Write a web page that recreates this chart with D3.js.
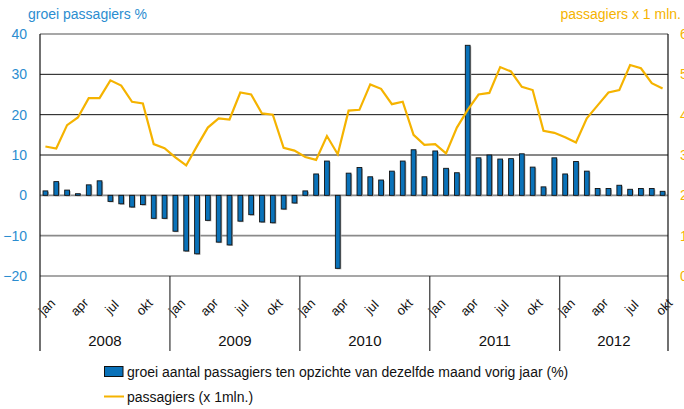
<!DOCTYPE html>
<html><head><meta charset="utf-8">
<script src="https://cdn.jsdelivr.net/npm/d3@7"></script>
<style>
html,body{margin:0;padding:0;background:#fff;}
svg{display:block;font-family:"Liberation Sans",Arial,sans-serif;}
</style></head>
<body>
<svg id="chart" width="684" height="409"></svg>
<script>
const years = ["2008","2009","2010","2011","2012"];
const monthNames = ["jan","feb","mrt","apr","mei","jun","jul","aug","sep","okt","nov","dec"];
const tickMonths = ["jan","apr","jul","okt"];
// months jan 2008 .. okt 2012
const growth = [
  1.1, 3.4, 1.3, 0.4, 2.6, 3.6, -1.5, -2.1, -2.9, -2.3, -5.7, -5.7,
  -8.9, -13.8, -14.5, -6.2, -11.6, -12.3, -6.4, -4.8, -6.6, -6.8, -3.4, -1.9,
  1.1, 5.3, 8.5, -18.1, 5.5, 6.9, 4.6, 3.8, 6.0, 8.5, 11.3, 4.6,
  11.0, 6.7, 5.6, 37.2, 9.3, 10.0, 9.0, 9.1, 10.3, 7.0, 2.1, 9.3,
  5.3, 8.4, 6.0, 1.7, 1.7, 2.5, 1.5, 1.7, 1.7, 1.0
];
const passengers = [
  3.21, 3.16, 3.74, 3.93, 4.41, 4.41, 4.85, 4.72, 4.32, 4.28, 3.27, 3.17,
  2.94, 2.74, 3.22, 3.68, 3.91, 3.88, 4.55, 4.50, 4.03, 4.00, 3.18, 3.11,
  2.95, 2.88, 3.47, 3.02, 4.10, 4.12, 4.75, 4.64, 4.26, 4.32, 3.50, 3.25,
  3.27, 3.04, 3.68, 4.12, 4.50, 4.54, 5.18, 5.07, 4.69, 4.61, 3.60, 3.55,
  3.44, 3.31, 3.91, 4.23, 4.55, 4.61, 5.23, 5.15, 4.78, 4.65
];
const leftTicks = [-20, -10, 0, 10, 20, 30, 40];
const rightTicks = [0, 1, 2, 3, 4, 5, 6];

const months = growth.map((g, i) => ({
  i, g, p: passengers[i],
  month: monthNames[i % 12],
  year: years[Math.floor(i / 12)]
}));

const L = 40, R = 668, T = 34, B = 276;
const blue = "#2b8dd0", orange = "#f5b300", barFill = "#0a72b9";
const svg = d3.select("#chart");

const x = d3.scaleBand().domain(d3.range(months.length)).range([L, R])
  .paddingInner(0.56).paddingOuter(0.28);
const step = x.step();
const cx = i => x(i) + x.bandwidth() / 2;
const yL = d3.scaleLinear().domain([-20, 40]).range([B, T]);
const yR = d3.scaleLinear().domain([0, 6]).range([B, T]);

// gridlines
const grid = svg.append("g");
leftTicks.forEach(v => {
  const crisp = (v === 10 || v === 20 || v === 30);
  grid.append("line")
    .attr("x1", L).attr("x2", R)
    .attr("y1", yL(v)).attr("y2", yL(v))
    .attr("stroke", crisp ? "#111" : "#8a8a8a")
    .attr("stroke-width", crisp ? 1 : 1.6);
});

// bars (shadow + bar)
svg.append("g").selectAll("rect").data(months).join("rect")
  .attr("x", d => x(d.i) + 1.2)
  .attr("y", d => Math.min(yL(d.g), yL(0)) + 1)
  .attr("width", x.bandwidth())
  .attr("height", d => Math.abs(yL(d.g) - yL(0)))
  .attr("fill", "#b0b0b0");
svg.append("g").selectAll("rect").data(months).join("rect")
  .attr("x", d => x(d.i))
  .attr("y", d => Math.min(yL(d.g), yL(0)))
  .attr("width", x.bandwidth())
  .attr("height", d => Math.abs(yL(d.g) - yL(0)))
  .attr("fill", barFill).attr("stroke", "#111").attr("stroke-width", 0.9);

// line
const line = d3.line().x(d => cx(d.i)).y(d => yR(d.p));
svg.append("path").datum(months)
  .attr("d", line).attr("fill", "none")
  .attr("stroke", orange).attr("stroke-width", 2.2)
  .attr("stroke-linejoin", "miter");

// axes lines
svg.append("line").attr("x1", L).attr("x2", L).attr("y1", T).attr("y2", 351)
  .attr("stroke", "#111").attr("stroke-width", 1.2);
svg.append("line").attr("x1", R).attr("x2", R).attr("y1", T).attr("y2", 351)
  .attr("stroke", "#111").attr("stroke-width", 1.2);

// year separators
years.forEach((yr, k) => {
  if (k === 0) return;
  const xs = x(k * 12) - (step - x.bandwidth()) / 2;
  svg.append("line").attr("x1", xs).attr("x2", xs).attr("y1", B).attr("y2", 351)
    .attr("stroke", "#222").attr("stroke-width", 1.1);
});

// left axis labels
const yAxisL = d3.axisLeft(yL).tickValues(leftTicks).tickSize(0).tickPadding(0);
const gL = svg.append("g").attr("transform", `translate(27,0)`).call(yAxisL);
gL.select(".domain").remove();
gL.selectAll("text").attr("fill", blue).style("font-size", "14px")
  .style("font-family", "'Liberation Sans',Arial,sans-serif");

// right axis labels
const yAxisR = d3.axisRight(yR).tickValues(rightTicks).tickSize(0).tickPadding(0);
const gR = svg.append("g").attr("transform", `translate(680,0)`).call(yAxisR);
gR.select(".domain").remove();
gR.selectAll("text").attr("fill", orange).style("font-size", "14px")
  .style("font-family", "'Liberation Sans',Arial,sans-serif");

// titles
svg.append("text").attr("x", 28).attr("y", 19).attr("fill", blue)
  .style("font-size", "14px").text("groei passagiers %");
svg.append("text").attr("x", 681).attr("y", 19).attr("fill", orange)
  .attr("text-anchor", "end").style("font-size", "14px").text("passagiers x 1 mln.");

// month labels
svg.append("g").selectAll("text")
  .data(months.filter(d => tickMonths.includes(d.month)))
  .join("text")
  .attr("transform", d => `translate(${cx(d.i) + 1.5},307) rotate(-45)`)
  .attr("text-anchor", "middle").attr("dominant-baseline", "central")
  .attr("fill", "#111").style("font-size", "13px")
  .text(d => d.month);

// year labels
years.forEach((yr, k) => {
  const idx = months.filter(d => d.year === yr).map(d => d.i);
  const x0 = x(idx[0]) - (step - x.bandwidth()) / 2;
  const x1 = x(idx[idx.length - 1]) + x.bandwidth() + (step - x.bandwidth()) / 2;
  svg.append("text").attr("x", (x0 + x1) / 2).attr("y", 346)
    .attr("text-anchor", "middle").attr("fill", "#111")
    .style("font-size", "15px").text(yr);
});

// legend
svg.append("rect").attr("x", 104.5).attr("y", 366.5).attr("width", 18.5).attr("height", 10)
  .attr("fill", barFill).attr("stroke", "#111").attr("stroke-width", 1);
svg.append("text").attr("x", 127).attr("y", 376.5).attr("fill", "#111")
  .style("font-size", "14px")
  .text("groei aantal passagiers ten opzichte van dezelfde maand vorig jaar (%)");
svg.append("line").attr("x1", 104).attr("x2", 124).attr("y1", 396.5).attr("y2", 396.5)
  .attr("stroke", orange).attr("stroke-width", 2);
svg.append("text").attr("x", 127).attr("y", 401.5).attr("fill", "#111")
  .style("font-size", "14px").text("passagiers (x 1mln.)");
</script>
</body></html>
